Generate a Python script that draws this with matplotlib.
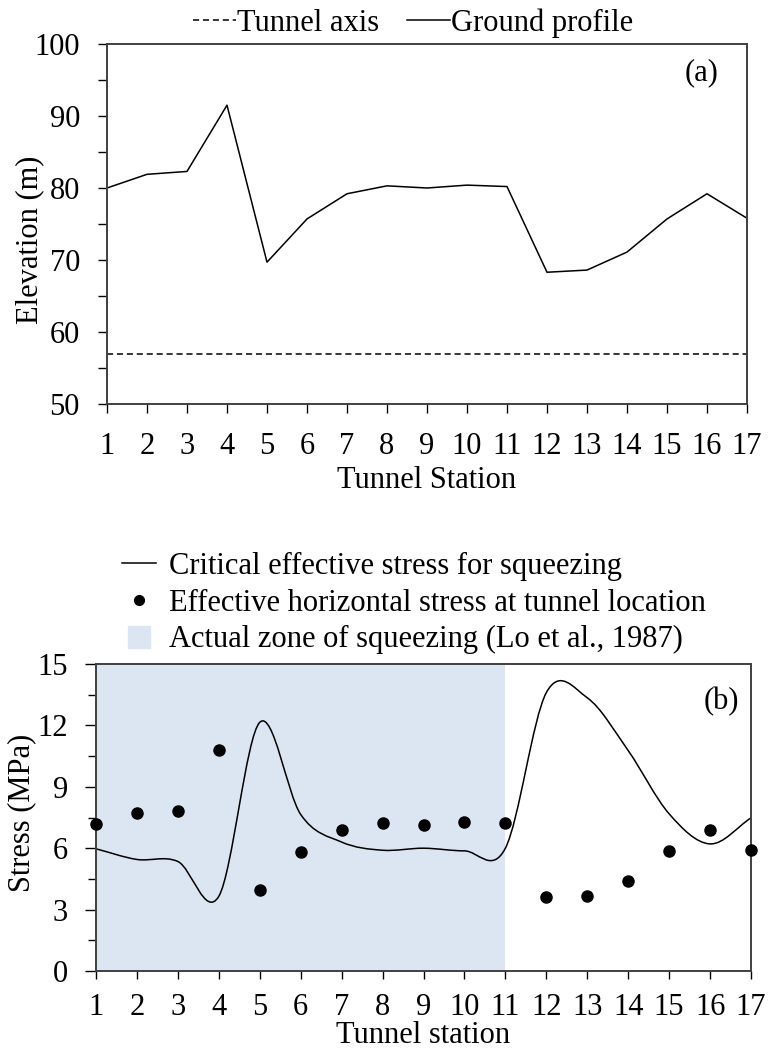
import matplotlib
matplotlib.use("Agg")
import matplotlib.pyplot as plt
from matplotlib.lines import Line2D
from matplotlib.path import Path
from matplotlib.patches import PathPatch
import numpy as np

plt.rcParams['font.family'] = ['Liberation Serif', 'DejaVu Serif']

# ---------------- data ----------------
stations = list(range(1, 18))
ground_profile = [80.0, 81.9, 82.3, 91.5, 69.7, 75.7, 79.2, 80.3, 80.0, 80.4,
                  80.2, 68.3, 68.6, 71.1, 75.7, 79.2, 75.8]
tunnel_axis = 57.0

critical_stress = [5.97, 5.45, 5.35, 3.65, 12.15, 7.65, 6.3, 5.9, 6.0, 5.87,
                   6.0, 13.6, 13.35, 10.77, 7.68, 6.21, 7.48]
horizontal_stress = [7.16, 7.73, 7.84, 10.82, 3.97, 5.81, 6.9, 7.24, 7.14, 7.26,
                     7.21, 3.6, 3.68, 4.39, 5.86, 6.9, 5.89]
squeeze_zone = (1, 11)

FS = 22
SPINE = '#404040'
BLUE = '#dce6f2'

fig = plt.figure(figsize=(7.68, 10.51), dpi=100)

W, H = 768.0, 1051.0
def axrect(l, t, r, b):
    return [l / W, 1 - b / H, (r - l) / W, (b - t) / H]

# ---------------- panel (a) ----------------
ax1 = fig.add_axes(axrect(107, 44, 747, 404))
ax1.plot(stations, [tunnel_axis] * len(stations), color='black', lw=1.1,
         linestyle=(0, (4, 2.5)), label='Tunnel axis')
ax1.plot(stations, ground_profile, color='black', lw=1.1, label='Ground profile')
ax1.set_xlim(1, 17)
ax1.set_ylim(50, 100)
ax1.set_xticks(stations)
ax1.set_yticks(range(50, 101, 10))
ax1.set_yticks(range(55, 100, 10), minor=True)
ax1.tick_params(axis='x', direction='out', length=6.5, width=1.0, pad=14,
                labelsize=FS, colors='black')
ax1.tick_params(axis='y', which='both', direction='out', length=6.5, width=1.0,
                pad=13, labelsize=FS)
for s in ax1.spines.values():
    s.set_color(SPINE)
    s.set_linewidth(1.4)
ax1.set_xlabel('Tunnel Station', fontsize=FS)
ax1.xaxis.label.set_va('center')
ax1.xaxis.set_label_coords(0.5, (404 - 481) / 360.0)
ax1.set_ylabel('Elevation (m)', fontsize=FS)
ax1.yaxis.label.set_va('center')
ax1.yaxis.set_label_coords((30 - 107) / 640.0, (404 - 240) / 360.0)
ax1.text((702 - 107) / 640.0, (404 - 73) / 360.0, '(a)', transform=ax1.transAxes,
         fontsize=FS, ha='center', va='center')

h_a = [Line2D([], [], color='black', lw=1.1, linestyle=(0, (4, 2.5))),
       Line2D([], [], color='black', lw=1.1)]
fig.legend(h_a, ['Tunnel axis', 'Ground profile'], loc='center',
           bbox_to_anchor=(413 / W, 1 - 23 / H), ncol=2, frameon=False,
           fontsize=FS, handlelength=1.4, handletextpad=0.05,
           columnspacing=0.9, borderpad=0, borderaxespad=0)

# ---------------- panel (b) ----------------
ax2 = fig.add_axes(axrect(96, 664, 751, 971))
ax2.axvspan(squeeze_zone[0], squeeze_zone[1], color=BLUE, lw=0, zorder=0)

# smooth curve (Catmull-Rom style Bezier through the station values)
xs = np.array(stations, dtype=float)
ys = np.array(critical_stress, dtype=float)
n = len(xs)
m = np.zeros(n)
m[1:-1] = (ys[2:] - ys[:-2]) / 2.0
m[0] = ys[1] - ys[0]
m[-1] = ys[-1] - ys[-2]
verts = [(xs[0], ys[0])]
codes = [Path.MOVETO]
for i in range(n - 1):
    dx = xs[i + 1] - xs[i]
    verts += [(xs[i] + dx / 3, ys[i] + m[i] / 3),
              (xs[i + 1] - dx / 3, ys[i + 1] - m[i + 1] / 3),
              (xs[i + 1], ys[i + 1])]
    codes += [Path.CURVE4] * 3
ax2.add_patch(PathPatch(Path(verts, codes), fill=False, edgecolor='black',
                        lw=1.1, zorder=2))
ax2.plot(stations, horizontal_stress, 'o', color='black', markersize=8,
         zorder=3, clip_on=False)
ax2.set_xlim(1, 17)
ax2.set_ylim(0, 15)
ax2.set_xticks(stations)
ax2.set_yticks(range(0, 16, 3))
ax2.set_yticks(np.arange(1.5, 15, 3), minor=True)
ax2.tick_params(axis='x', direction='out', length=6, width=1.0, pad=10,
                labelsize=FS)
ax2.tick_params(axis='y', which='major', direction='out', length=8, width=1.0,
                pad=12, labelsize=FS)
ax2.tick_params(axis='y', which='minor', direction='out', length=6, width=1.0)
for s in ax2.spines.values():
    s.set_color(SPINE)
    s.set_linewidth(1.4)
ax2.set_xlabel('Tunnel station', fontsize=FS)
ax2.xaxis.label.set_va('baseline')
ax2.xaxis.set_label_coords(0.5, (971 - 1043) / 307.0)
ax2.set_ylabel('Stress (MPa)', fontsize=FS)
ax2.yaxis.label.set_va('center')
ax2.yaxis.set_label_coords((22 - 96) / 655.0, (971 - 813) / 307.0)
ax2.text((721 - 96) / 655.0, (971 - 702) / 307.0, '(b)', transform=ax2.transAxes,
         fontsize=FS, ha='center', va='center')

h_b = [Line2D([], [], color='black', lw=1.1),
       Line2D([], [], color='black', marker='o', linestyle='none', markersize=7),
       Line2D([], [], color=BLUE, marker='s', linestyle='none', markersize=16)]
fig.legend(h_b, ['Critical effective stress for squeezing',
                 'Effective horizontal stress at tunnel location',
                 'Actual zone of squeezing (Lo et al., 1987)'],
           loc='upper left', bbox_to_anchor=(122 / W, 1 - 552 / H),
           frameon=False, fontsize=FS, handlelength=1.1, handletextpad=0.45,
           labelspacing=0.25, borderpad=0, borderaxespad=0, numpoints=1)

fig.savefig('out.png', dpi=100)
